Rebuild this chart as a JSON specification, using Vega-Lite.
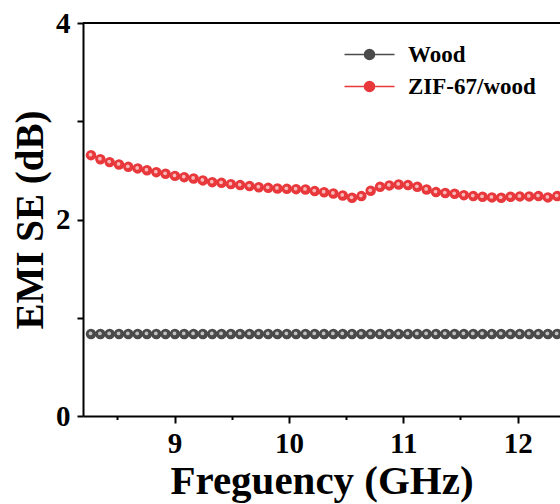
{
  "$schema": "https://vega.github.io/schema/vega-lite/v6.json",
  "autosize": "none",
  "padding": {"left": 83, "top": 23, "right": 0, "bottom": 88},
  "width": 477,
  "height": 393,
  "config": {
    "view": {"stroke": null},
    "font": "Liberation Serif",
    "axis": {"grid": false, "domainColor": "#000", "domainWidth": 2, "tickColor": "#000", "tickWidth": 2, "labelColor": "#000", "titleColor": "#000", "labelFont": "Liberation Serif", "titleFont": "Liberation Serif", "labelFontWeight": "bold", "titleFontWeight": "bold"}
  },
  "datasets": {"pts": [
    {"f": 8.270, "se": 0.835, "series": "Wood"}, {"f": 8.352, "se": 0.835, "series": "Wood"}, {"f": 8.433, "se": 0.835, "series": "Wood"}, {"f": 8.515, "se": 0.835, "series": "Wood"}, {"f": 8.596, "se": 0.835, "series": "Wood"}, {"f": 8.678, "se": 0.835, "series": "Wood"}, {"f": 8.759, "se": 0.835, "series": "Wood"}, {"f": 8.841, "se": 0.835, "series": "Wood"}, {"f": 8.922, "se": 0.835, "series": "Wood"}, {"f": 9.004, "se": 0.835, "series": "Wood"}, {"f": 9.085, "se": 0.835, "series": "Wood"}, {"f": 9.167, "se": 0.835, "series": "Wood"}, {"f": 9.248, "se": 0.835, "series": "Wood"}, {"f": 9.330, "se": 0.835, "series": "Wood"}, {"f": 9.411, "se": 0.835, "series": "Wood"}, {"f": 9.493, "se": 0.835, "series": "Wood"}, {"f": 9.574, "se": 0.835, "series": "Wood"}, {"f": 9.656, "se": 0.835, "series": "Wood"}, {"f": 9.737, "se": 0.835, "series": "Wood"}, {"f": 9.819, "se": 0.835, "series": "Wood"}, {"f": 9.900, "se": 0.835, "series": "Wood"}, {"f": 9.982, "se": 0.835, "series": "Wood"}, {"f": 10.063, "se": 0.835, "series": "Wood"}, {"f": 10.145, "se": 0.835, "series": "Wood"}, {"f": 10.226, "se": 0.835, "series": "Wood"}, {"f": 10.308, "se": 0.835, "series": "Wood"}, {"f": 10.389, "se": 0.835, "series": "Wood"}, {"f": 10.471, "se": 0.835, "series": "Wood"}, {"f": 10.552, "se": 0.835, "series": "Wood"}, {"f": 10.634, "se": 0.835, "series": "Wood"}, {"f": 10.715, "se": 0.835, "series": "Wood"}, {"f": 10.797, "se": 0.835, "series": "Wood"}, {"f": 10.878, "se": 0.835, "series": "Wood"}, {"f": 10.960, "se": 0.835, "series": "Wood"}, {"f": 11.041, "se": 0.835, "series": "Wood"}, {"f": 11.123, "se": 0.835, "series": "Wood"}, {"f": 11.204, "se": 0.835, "series": "Wood"}, {"f": 11.286, "se": 0.835, "series": "Wood"}, {"f": 11.367, "se": 0.835, "series": "Wood"}, {"f": 11.449, "se": 0.835, "series": "Wood"}, {"f": 11.530, "se": 0.835, "series": "Wood"}, {"f": 11.612, "se": 0.835, "series": "Wood"}, {"f": 11.693, "se": 0.835, "series": "Wood"}, {"f": 11.775, "se": 0.835, "series": "Wood"}, {"f": 11.856, "se": 0.835, "series": "Wood"}, {"f": 11.938, "se": 0.835, "series": "Wood"}, {"f": 12.019, "se": 0.835, "series": "Wood"}, {"f": 12.101, "se": 0.835, "series": "Wood"}, {"f": 12.182, "se": 0.835, "series": "Wood"}, {"f": 12.264, "se": 0.835, "series": "Wood"}, {"f": 12.345, "se": 0.835, "series": "Wood"},
    {"f": 8.270, "se": 2.655, "series": "ZIF-67/wood"}, {"f": 8.352, "se": 2.614, "series": "ZIF-67/wood"}, {"f": 8.433, "se": 2.584, "series": "ZIF-67/wood"}, {"f": 8.515, "se": 2.560, "series": "ZIF-67/wood"}, {"f": 8.596, "se": 2.536, "series": "ZIF-67/wood"}, {"f": 8.678, "se": 2.520, "series": "ZIF-67/wood"}, {"f": 8.759, "se": 2.502, "series": "ZIF-67/wood"}, {"f": 8.841, "se": 2.482, "series": "ZIF-67/wood"}, {"f": 8.922, "se": 2.465, "series": "ZIF-67/wood"}, {"f": 9.004, "se": 2.444, "series": "ZIF-67/wood"}, {"f": 9.085, "se": 2.431, "series": "ZIF-67/wood"}, {"f": 9.167, "se": 2.418, "series": "ZIF-67/wood"}, {"f": 9.248, "se": 2.398, "series": "ZIF-67/wood"}, {"f": 9.330, "se": 2.380, "series": "ZIF-67/wood"}, {"f": 9.411, "se": 2.373, "series": "ZIF-67/wood"}, {"f": 9.493, "se": 2.360, "series": "ZIF-67/wood"}, {"f": 9.574, "se": 2.350, "series": "ZIF-67/wood"}, {"f": 9.656, "se": 2.340, "series": "ZIF-67/wood"}, {"f": 9.737, "se": 2.329, "series": "ZIF-67/wood"}, {"f": 9.819, "se": 2.322, "series": "ZIF-67/wood"}, {"f": 9.900, "se": 2.316, "series": "ZIF-67/wood"}, {"f": 9.982, "se": 2.312, "series": "ZIF-67/wood"}, {"f": 10.063, "se": 2.309, "series": "ZIF-67/wood"}, {"f": 10.145, "se": 2.306, "series": "ZIF-67/wood"}, {"f": 10.226, "se": 2.289, "series": "ZIF-67/wood"}, {"f": 10.308, "se": 2.278, "series": "ZIF-67/wood"}, {"f": 10.389, "se": 2.265, "series": "ZIF-67/wood"}, {"f": 10.471, "se": 2.245, "series": "ZIF-67/wood"}, {"f": 10.552, "se": 2.221, "series": "ZIF-67/wood"}, {"f": 10.634, "se": 2.238, "series": "ZIF-67/wood"}, {"f": 10.715, "se": 2.292, "series": "ZIF-67/wood"}, {"f": 10.797, "se": 2.333, "series": "ZIF-67/wood"}, {"f": 10.878, "se": 2.347, "series": "ZIF-67/wood"}, {"f": 10.960, "se": 2.357, "series": "ZIF-67/wood"}, {"f": 11.041, "se": 2.350, "series": "ZIF-67/wood"}, {"f": 11.123, "se": 2.333, "series": "ZIF-67/wood"}, {"f": 11.204, "se": 2.306, "series": "ZIF-67/wood"}, {"f": 11.286, "se": 2.279, "series": "ZIF-67/wood"}, {"f": 11.367, "se": 2.269, "series": "ZIF-67/wood"}, {"f": 11.449, "se": 2.262, "series": "ZIF-67/wood"}, {"f": 11.530, "se": 2.248, "series": "ZIF-67/wood"}, {"f": 11.612, "se": 2.238, "series": "ZIF-67/wood"}, {"f": 11.693, "se": 2.231, "series": "ZIF-67/wood"}, {"f": 11.775, "se": 2.225, "series": "ZIF-67/wood"}, {"f": 11.856, "se": 2.221, "series": "ZIF-67/wood"}, {"f": 11.938, "se": 2.231, "series": "ZIF-67/wood"}, {"f": 12.019, "se": 2.235, "series": "ZIF-67/wood"}, {"f": 12.101, "se": 2.235, "series": "ZIF-67/wood"}, {"f": 12.182, "se": 2.238, "series": "ZIF-67/wood"}, {"f": 12.264, "se": 2.225, "series": "ZIF-67/wood"}, {"f": 12.345, "se": 2.238, "series": "ZIF-67/wood"}
  ]},
  "data": {"name": "pts"},
  "layer": [
    {"mark": {"type": "line", "strokeWidth": 1.5},
     "encoding": {
       "x": {"field": "f", "type": "quantitative", "scale": {"domain": [8.2, 12.37], "nice": false, "zero": false},
         "axis": {"values": [8.5, 9, 9.5, 10, 10.5, 11, 11.5, 12], "labelExpr": "datum.value % 1 === 0 ? format(datum.value, 'd') : ''",
           "tickSize": {"condition": {"test": "datum.value % 1 === 0", "value": 7}, "value": 3.5},
           "labelFontSize": 29, "labelBaseline": "alphabetic", "labelPadding": 29, "labelFlush": false,
           "title": "Freguency (GHz)", "titleFontSize": 41, "titleBaseline": "alphabetic", "titleY": 77}},
       "y": {"field": "se", "type": "quantitative", "scale": {"domain": [0, 4], "nice": false},
         "axis": {"values": [0, 1, 2, 3, 4], "labelExpr": "datum.value % 2 === 0 ? format(datum.value, 'd') : ''", "tickSize": 6,
           "labelFontSize": 29, "labelPadding": 7, "labelFlush": false, "labelBaseline": "middle",
           "title": "EMI SE (dB)", "titleFontSize": 39, "titleBaseline": "alphabetic", "titleX": -41}},
       "color": {"field": "series", "type": "nominal",
       "scale": {"domain": ["Wood", "ZIF-67/wood"], "range": ["#4a4a4a", "#e8383b"]},
       "legend": {"title": null, "orient": "none", "legendX": 275, "legendY": 20, "padding": 0,
         "symbolType": "M-2.5,0L2.5,0M-0.5,0A0.5,0.5,0,1,1,0.5,0A0.5,0.5,0,1,1,-0.5,0Z",
         "symbolSize": 400, "symbolStrokeWidth": 1.5, "labelOffset": 27, "rowPadding": 8,
         "labelFont": "Liberation Serif", "labelFontWeight": "bold", "labelFontSize": 23, "labelColor": "#000",
         "encode": {"symbols": {"update": {"fill": {"scale": "color", "field": "value"}, "stroke": {"scale": "color", "field": "value"}, "opacity": {"value": 1}}}}}}}},
    {"mark": {"type": "point", "shape": "circle", "filled": true, "size": 110, "opacity": 1},
     "encoding": {"x": {"field": "f", "type": "quantitative"}, "y": {"field": "se", "type": "quantitative"},
       "color": {"field": "series", "type": "nominal", "legend": null}}},
    {"mark": {"type": "point", "shape": "circle", "filled": true, "size": 14, "opacity": 0.9, "xOffset": -0.5, "yOffset": -0.5},
     "encoding": {"x": {"field": "f", "type": "quantitative"}, "y": {"field": "se", "type": "quantitative"},
       "fill": {"field": "series", "type": "nominal", "scale": {"domain": ["Wood", "ZIF-67/wood"], "range": ["#cfcfcf", "#f9c8c8"]}, "legend": null}}},
    {"data": {"values": [{"top": 4}]},
     "mark": {"type": "rule", "strokeWidth": 2, "color": "#000"},
     "encoding": {"y": {"field": "top", "type": "quantitative"}}}
  ]
}
